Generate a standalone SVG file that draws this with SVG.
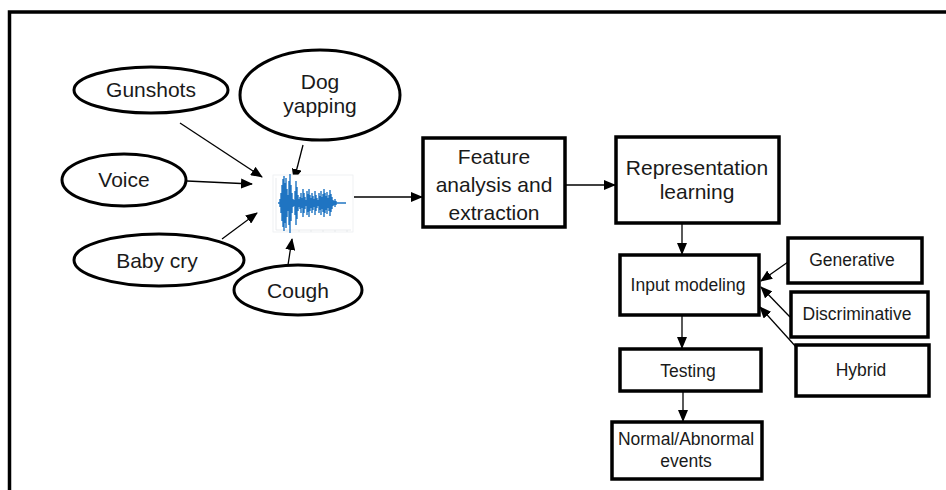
<svg xmlns="http://www.w3.org/2000/svg" width="946" height="490" viewBox="0 0 946 490">
  <style>
    .shape { fill: #fff; stroke: #000; stroke-width: 3.5; }
    .ell { fill: #fff; stroke: #000; stroke-width: 3; }
    .big { font-family: "Liberation Sans", Arial, sans-serif; font-size: 21px; fill: #1a1a1a; text-anchor: middle; }
    .small { font-family: "Liberation Sans", Arial, sans-serif; font-size: 17.5px; fill: #1a1a1a; text-anchor: middle; }
    .conn { fill: none; stroke: #000; stroke-width: 1.3; marker-end: url(#arrow); }
    .grid { fill: none; stroke: #e3e6ea; stroke-width: 0.8; }
    .wave { fill: none; stroke: #1f74c2; stroke-width: 1.4; }
  </style>
  <defs>
    <marker id="arrow" markerUnits="userSpaceOnUse" markerWidth="12" markerHeight="10" refX="11" refY="5" orient="auto">
      <path d="M0,0 L12,5 L0,10 z" fill="#000"/>
    </marker>
  </defs>

  <rect x="0" y="0" width="946" height="490" fill="#fff"/>
  <!-- frame: only top and left edges are visible -->
  <path d="M9.5,490 V12 H946" fill="none" stroke="#000" stroke-width="3.5"/>

  <g id="connectors">
    <line class="conn" x1="180" y1="123" x2="262" y2="177"/>
    <line class="conn" x1="303" y1="145" x2="294" y2="180"/>
    <line class="conn" x1="187" y1="181" x2="252" y2="184"/>
    <line class="conn" x1="222" y1="239" x2="257" y2="213"/>
    <line class="conn" x1="288" y1="265" x2="292" y2="239"/>
    <line class="conn" x1="354" y1="197" x2="422" y2="197"/>
    <line class="conn" x1="566" y1="185" x2="615" y2="185"/>
    <line class="conn" x1="682" y1="223" x2="682" y2="254"/>
    <line class="conn" x1="788" y1="262" x2="761" y2="281"/>
    <line class="conn" x1="790" y1="317" x2="761" y2="287"/>
    <line class="conn" x1="797" y1="348" x2="760" y2="307"/>
    <line class="conn" x1="682" y1="316" x2="682" y2="348"/>
    <line class="conn" x1="683" y1="392" x2="683" y2="421"/>
  </g>

  <g id="gunshots">
    <ellipse class="ell" cx="151" cy="90" rx="77" ry="23"/>
    <text class="big" x="151" y="97">Gunshots</text>
  </g>
  <g id="dog-yapping">
    <ellipse class="ell" cx="320" cy="95" rx="80" ry="45"/>
    <text class="big" x="320" y="89">Dog</text>
    <text class="big" x="320" y="113">yapping</text>
  </g>
  <g id="voice">
    <ellipse class="ell" cx="124" cy="180" rx="62" ry="26"/>
    <text class="big" x="124" y="187">Voice</text>
  </g>
  <g id="baby-cry">
    <ellipse class="ell" cx="159" cy="260" rx="85" ry="26"/>
    <text class="big" x="157" y="268">Baby cry</text>
  </g>
  <g id="cough">
    <ellipse class="ell" cx="298" cy="290" rx="64" ry="25"/>
    <text class="big" x="298" y="298">Cough</text>
  </g>

  <g id="waveform">
    <rect x="273" y="175" width="80" height="57" fill="#fff" stroke="#eceef1" stroke-width="0.8"/>
    <path class="grid" d="M276,178 V230 H351"/>
    <path class="grid" d="M287,230 v2 M299,230 v2 M311,230 v2 M323,230 v2 M335,230 v2 M347,230 v2"/>
    <path class="wave" d="M278,203 H346"/>
    <path class="wave" d="M280,199 V207 M281,193 V213 M282,185 V221 M283,179 V227 M284,176 V231 M285,183 V223 M286,178 V228 M287,189 V217 M288,195 V211 M289,181 V225 M290,174 V233 M291,185 V221 M292,193 V213 M293,199 V207 M294,200 V206 M295,191 V215 M296,181 V225 M297,187 V219 M298,195 V211 M299,199 V207 M300,197 V209 M301,193 V213 M302,198 V208 M303,189 V217 M304,193 V213 M305,197 V209 M306,200 V206 M307,191 V215 M308,194 V212 M309,189 V217 M310,195 V211 M311,198 V208 M312,193 V213 M313,196 V210 M314,199 V207 M315,191 V215 M316,195 V211 M317,198 V208 M318,200 V206 M319,193 V213 M320,196 V210 M321,191 V215 M322,197 V209 M323,194 V212 M324,189 V217 M325,193 V213 M326,196 V210 M327,192 V214 M328,198 V208 M329,195 V211 M330,190 V216 M331,194 V212 M332,197 V209 M333,200 V206 M334,201 V205 M335,199 V207 M336,201 V205"/>
  </g>

  <g id="feature-analysis">
    <rect class="shape" x="423" y="138" width="142" height="89"/>
    <text class="big" x="494" y="164">Feature</text>
    <text class="big" x="494" y="192">analysis and</text>
    <text class="big" x="494" y="220">extraction</text>
  </g>
  <g id="representation-learning">
    <rect class="shape" x="616" y="137" width="163" height="86"/>
    <text class="big" x="697" y="175">Representation</text>
    <text class="big" x="697" y="199">learning</text>
  </g>
  <g id="input-modeling">
    <rect class="shape" x="620" y="255" width="139" height="60"/>
    <text class="small" x="688" y="291">Input modeling</text>
  </g>
  <g id="generative">
    <rect class="shape" x="788" y="238" width="134" height="45"/>
    <text class="small" x="852" y="266">Generative</text>
  </g>
  <g id="discriminative">
    <rect class="shape" x="791" y="292" width="137" height="45"/>
    <text class="small" x="857" y="320">Discriminative</text>
  </g>
  <g id="hybrid">
    <rect class="shape" x="796" y="345" width="133" height="51"/>
    <text class="small" x="861" y="376">Hybrid</text>
  </g>
  <g id="testing">
    <rect class="shape" x="620" y="349" width="141" height="42"/>
    <text class="small" x="688" y="377">Testing</text>
  </g>
  <g id="normal-abnormal-events">
    <rect class="shape" x="612" y="422" width="150" height="57"/>
    <text class="small" x="686" y="445">Normal/Abnormal</text>
    <text class="small" x="686" y="467">events</text>
  </g>
</svg>
